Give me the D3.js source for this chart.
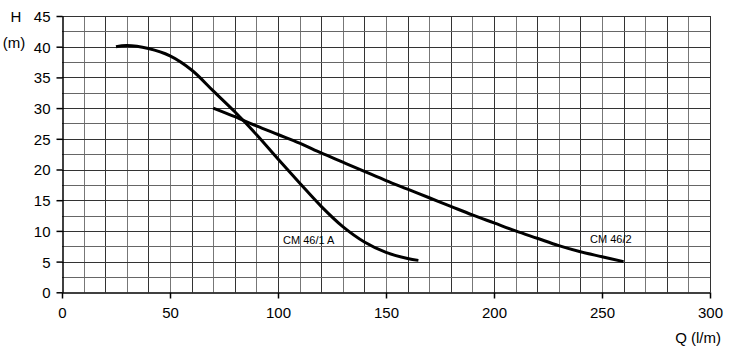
<!DOCTYPE html>
<html><head><meta charset="utf-8">
<script src="https://cdn.jsdelivr.net/npm/d3@7"></script>
<style>body{margin:0;background:#fff;} text{font-family:"Liberation Sans",Arial,sans-serif;}</style>
</head><body>
<svg id="c" width="730" height="361"></svg>
<script>
const xTicks = [0, 50, 100, 150, 200, 250, 300];
const yTicks = [0, 5, 10, 15, 20, 25, 30, 35, 40, 45];
const curve1Name = "CM 46/1 A";
const curve1Q = [25, 30, 40, 50, 60, 70, 80, 90, 100, 110, 120, 130, 140, 150, 160, 165];
const curve1H = [40.0, 40.2, 39.7, 38.5, 36.2, 32.8, 29.4, 25.7, 21.7, 17.8, 14.0, 10.7, 8.2, 6.5, 5.5, 5.2];
const curve2Name = "CM 46/2";
const curve2Q = [70, 80, 90, 100, 110, 120, 130, 140, 150, 160, 170, 180, 190, 200, 210, 220, 230, 240, 250, 260];
const curve2H = [30.0, 28.6, 27.1, 25.7, 24.3, 22.7, 21.2, 19.7, 18.2, 16.8, 15.4, 14.0, 12.6, 11.3, 10.0, 8.8, 7.6, 6.6, 5.8, 5.0];

const svg = d3.select("#c");
const x = d3.scaleLinear().domain([0, 300]).range([62, 710]);
const y = d3.scaleLinear().domain([0, 45]).range([292.3, 16]);

const g = svg.append("g");
// grid
const vg = d3.range(10, 301, 10);
const hg = d3.range(2.5, 45.1, 2.5);
g.selectAll(".vg").data(vg).join("line")
  .attr("x1", d => Math.round(x(d)) + 0.5).attr("x2", d => Math.round(x(d)) + 0.5)
  .attr("y1", y(45)).attr("y2", y(0))
  .attr("stroke", (d, i) => i % 2 ? "#333" : "#777").attr("stroke-width", 1);
g.selectAll(".hg").data(hg).join("line")
  .attr("y1", d => Math.round(y(d)) + 0.5).attr("y2", d => Math.round(y(d)) + 0.5)
  .attr("x1", x(0)).attr("x2", x(300))
  .attr("stroke", (d, i) => i % 2 ? "#333" : "#666").attr("stroke-width", 1);

// axes
const xa = svg.append("g").attr("transform", `translate(0,${Math.round(y(0)) + 0.5})`)
  .call(d3.axisBottom(x).tickValues(xTicks).tickSize(6).tickPadding(9).tickSizeOuter(0));
const ya = svg.append("g").attr("transform", `translate(${Math.round(x(0)) + 0.5},0)`)
  .call(d3.axisLeft(y).tickValues(yTicks).tickSize(6).tickPadding(6).tickSizeOuter(0));
[xa, ya].forEach(a => {
  a.select(".domain").attr("stroke", "#000").attr("stroke-width", 1.5);
  a.selectAll(".tick line").attr("stroke", "#000").attr("stroke-width", 1.5);
  a.selectAll(".tick text").attr("fill", "#000").style("font-size", "15px")
    .style("font-family", "'Liberation Sans', Arial, sans-serif");
});
ya.selectAll(".tick text").attr("dy", "0.36em");
xa.selectAll(".tick text").attr("dy", "0.71em");

// axis titles
svg.append("text").attr("x", 16).attr("y", 22).attr("text-anchor", "middle")
  .style("font-size", "15px").text("H");
svg.append("text").attr("x", 14).attr("y", 48).attr("text-anchor", "middle")
  .style("font-size", "15px").text("(m)");
svg.append("text").attr("x", 721).attr("y", 343).attr("text-anchor", "end")
  .style("font-size", "15px").text("Q (l/m)");

// curves
const line = d3.line().x(d => x(d[0])).y(d => y(d[1])).curve(d3.curveCatmullRom.alpha(0.5));
const c1 = curve1Q.map((q, i) => [q, curve1H[i]]);
const c2 = curve2Q.map((q, i) => [q, curve2H[i]]);
[c1, c2].forEach(c => {
  svg.append("path").attr("d", line(c)).attr("fill", "none")
    .attr("stroke", "#000").attr("stroke-width", 3).attr("stroke-linecap", "butt");
});

// curve labels
svg.append("text").attr("x", 283).attr("y", 244).style("font-size", "11px").attr("fill", "#000").text(curve1Name);
svg.append("text").attr("x", 590).attr("y", 243).style("font-size", "11px").attr("fill", "#000").text(curve2Name);
</script>
</body></html>
